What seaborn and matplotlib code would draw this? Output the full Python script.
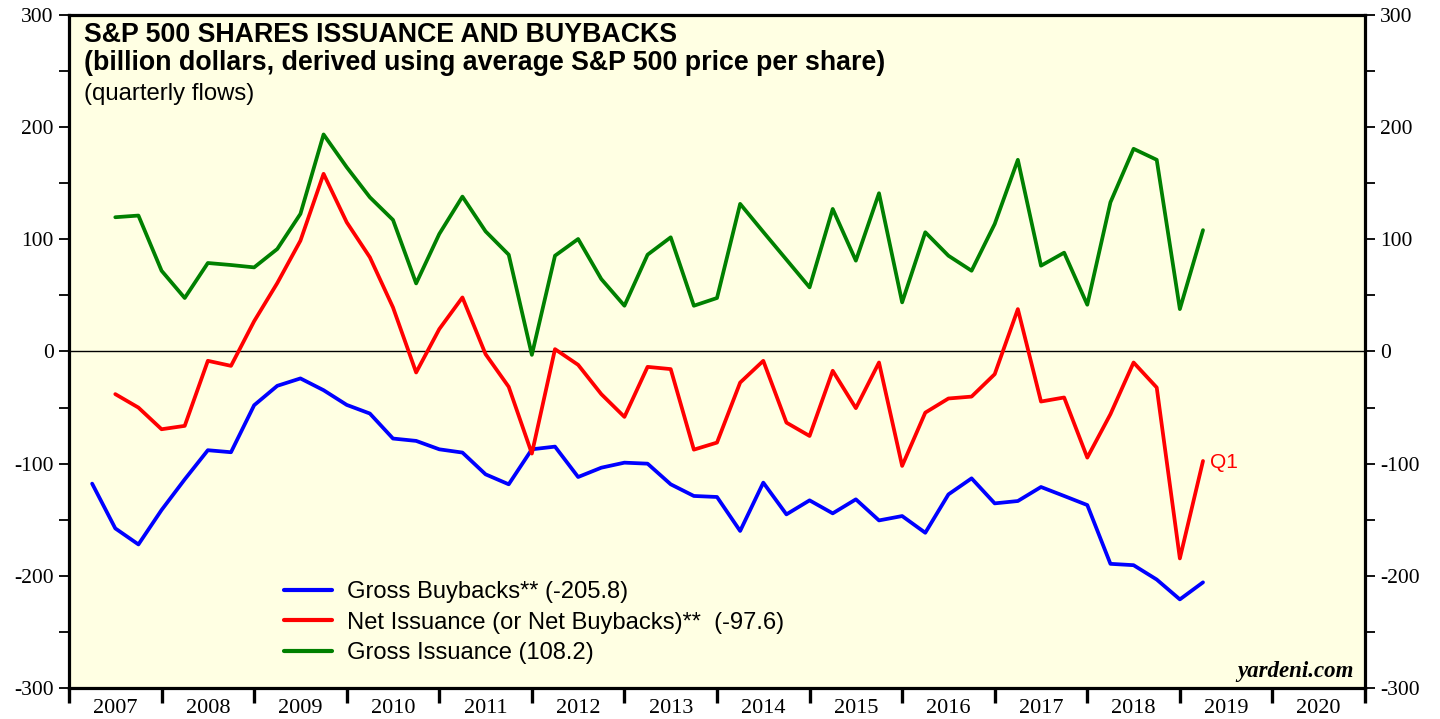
import numpy as np
import pandas as pd
import matplotlib
matplotlib.use("Agg")
import matplotlib.pyplot as plt
import seaborn as sns
from matplotlib.ticker import MultipleLocator, FixedLocator, NullFormatter, FixedFormatter

# ---------------- data (quarterly, 2007Q1 .. 2019Q1) ----------------
quarters = [f"{y}Q{q}" for y in range(2007, 2020) for q in range(1, 5)][:49]

gross_buybacks = [
    -117.8, -157.7, -172.0, -141.3, -114.0, -88.0, -89.8, -47.9,
    -30.6, -24.0, -34.5, -47.6, -55.3, -77.6, -79.7, -87.2,
    -90.1, -109.5, -118.4, -87.2, -84.8, -111.9, -103.6, -99.1,
    -100.0, -118.4, -128.8, -129.7, -160.0, -116.9, -145.2, -132.7,
    -144.3, -131.8, -150.6, -146.7, -161.6, -127.4, -113.1, -135.4,
    -133.3, -120.8, -128.8, -136.9, -189.3, -190.5, -203.3, -221.0,
    -205.8,
]
net_issuance = [
    np.nan, -38.0, -50.0, -69.3, -66.3, -8.3, -12.8, 27.0,
    61.0, 98.8, 158.4, 115.2, 84.0, 39.3, -18.7, 20.0,
    48.2, -2.4, -31.5, -91.0, 2.1, -11.9, -38.0, -58.3,
    -13.7, -15.7, -87.5, -81.2, -27.7, -8.3, -63.4, -75.3,
    -17.2, -50.5, -9.8, -102.0, -54.5, -41.9, -40.2, -20.2,
    37.8, -44.6, -41.0, -94.6, -55.9, -9.8, -32.1, -184.5,
    -97.6,
]
gross_issuance = [
    np.nan, 119.7, 121.2, 72.0, 47.7, 78.9, 77.1, 75.0,
    91.4, 122.7, 193.5, 164.3, 137.5, 117.3, 60.7, 104.8,
    138.1, 107.1, 86.3, -3.0, 85.4, 100.3, 64.6, 40.8,
    86.3, 101.8, 40.8, 47.7, 131.6, 106.6, 81.9, 57.2,
    127.1, 81.0, 141.1, 43.8, 106.3, 85.4, 72.0, 113.7,
    170.9, 76.5, 88.1, 41.7, 133.0, 180.7, 170.9, 37.8,
    108.2,
]
years = list(range(2007, 2021))
series_names = [
    f"Gross Buybacks** ({gross_buybacks[-1]:.1f})",
    f"Net Issuance (or Net Buybacks)**  ({net_issuance[-1]:.1f})",
    f"Gross Issuance ({gross_issuance[-1]:.1f})",
]
colors = ["#0000FF", "#FF0000", "#008000"]

# ---------------- frame ----------------
def qpos(q):
    y, n = q.split("Q")
    return int(y) + int(n) / 4.0

x = [qpos(q) for q in quarters]
frames = []
for name, vals in zip(series_names, [gross_buybacks, net_issuance, gross_issuance]):
    frames.append(pd.DataFrame({"x": x, "value": vals, "series": name}))
df = pd.concat(frames, ignore_index=True)

# ---------------- style ----------------
sns.set_style("white")
plt.rcParams["font.family"] = ["Liberation Sans", "DejaVu Sans"]
plt.rcParams["axes.unicode_minus"] = False
plt.rcParams["text.color"] = "black"
plt.rcParams["axes.labelcolor"] = "black"
plt.rcParams["xtick.color"] = "black"
plt.rcParams["ytick.color"] = "black"

fig = plt.figure(figsize=(14.4, 7.19), dpi=100)
ax = fig.add_axes([69 / 1440, 1 - 688 / 719, (1365 - 69) / 1440, (688 - 15) / 719])
ax.set_facecolor("#FFFFE3")

sns.lineplot(data=df, x="x", y="value", hue="series", hue_order=series_names,
             palette=colors, linewidth=2.7, estimator=None, ax=ax)

ax.axhline(0, color="black", linewidth=1.0, zorder=1)

ax.set_xlim(years[0], years[-1] + 1)
ax.set_ylim(-300, 300)
ax.set_xlabel("")
ax.set_ylabel("")

for s in ax.spines.values():
    s.set_linewidth(2.3)
    s.set_color("black")

# y ticks (both sides)
ax.yaxis.set_major_locator(MultipleLocator(100))
ax.yaxis.set_minor_locator(MultipleLocator(50))
ax.tick_params(axis="y", which="both", direction="out", length=7, width=1.3,
               left=True, right=True, labelleft=True, labelright=True,
               labelsize=15.5, pad=4, colors="black")
for lab in ax.get_yticklabels():
    lab.set_family("Liberation Serif")

# x ticks: boundaries at years, labels centered
ax.xaxis.set_major_locator(FixedLocator(years + [years[-1] + 1]))
ax.xaxis.set_major_formatter(NullFormatter())
ax.xaxis.set_minor_locator(FixedLocator([y + 0.5 for y in years]))
ax.xaxis.set_minor_formatter(FixedFormatter([str(y) for y in years]))
ax.tick_params(axis="x", which="major", direction="out", length=11, width=2.4, bottom=True,
               colors="black")
ax.tick_params(axis="x", which="minor", length=0, labelsize=16, pad=8, colors="black")
for lab in ax.get_xticklabels(minor=True):
    lab.set_family("Liberation Serif")

# titles
fig.text(84 / 1440, 1 - 35 / 719, "S&P 500 SHARES ISSUANCE AND BUYBACKS",
         fontsize=19.3, fontweight="bold", va="center", ha="left", color="black")
fig.text(84 / 1440, 1 - 63 / 719, "(billion dollars, derived using average S&P 500 price per share)",
         fontsize=19.3, fontweight="bold", va="center", ha="left", color="black")
fig.text(84 / 1440, 1 - 94 / 719, "(quarterly flows)",
         fontsize=17.2, va="center", ha="left", color="black")

# Q1 annotation
ax.text(qpos(quarters[-1]) + 0.08, net_issuance[-1] - 1.5, "Q1", color="#FF0000",
        fontsize=15, va="center", ha="left", family=["Liberation Sans", "DejaVu Sans"])

# watermark
fig.text(1354 / 1440, 1 - 672 / 719, "yardeni.com", fontsize=16.5,
         fontweight="bold", fontstyle="italic", family="Liberation Serif",
         ha="right", va="center", color="black")

# legend
leg = ax.legend(loc="upper left", bbox_to_anchor=((284 - 69) / 1296, (688 - 581) / 673),
                frameon=False, fontsize=17.1, handlelength=2.0, handletextpad=0.65,
                labelspacing=0.36, borderaxespad=0, borderpad=0)
for line in leg.get_lines():
    line.set_linewidth(3.0)
for t in leg.get_texts():
    t.set_color("black")

fig.savefig("out.png", dpi=100)
